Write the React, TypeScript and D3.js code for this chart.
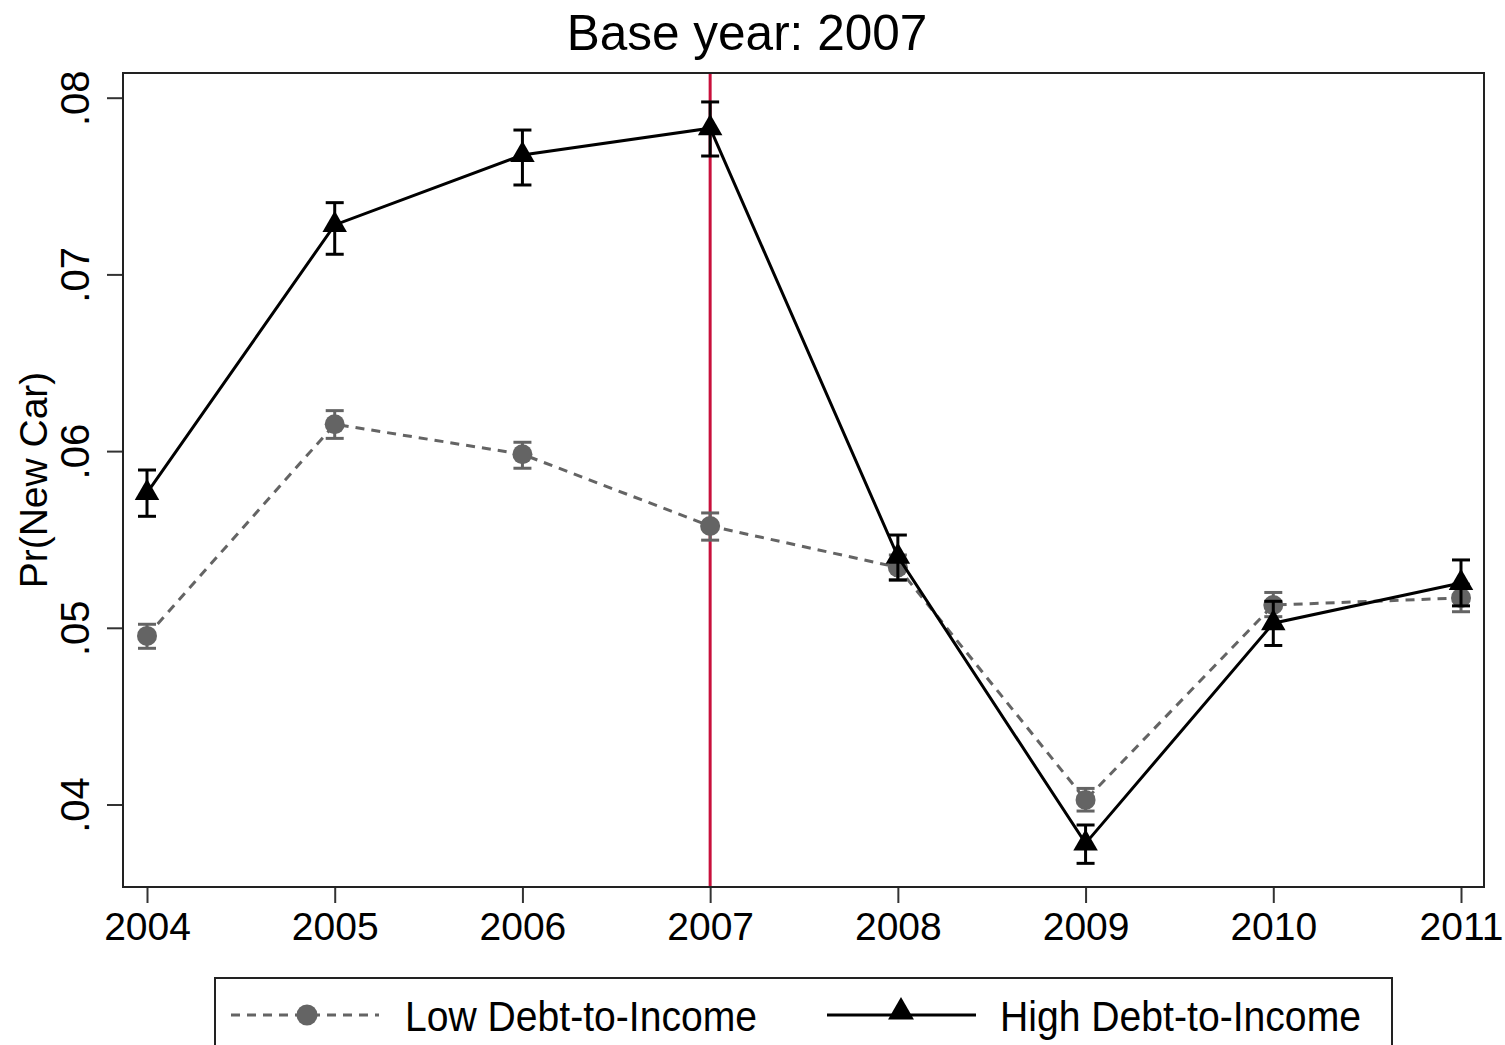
import { useEffect, useRef } from 'react';
import * as d3 from 'd3';

const years = [2004, 2005, 2006, 2007, 2008, 2009, 2010, 2011];

const lowMean = [0.04954, 0.06152, 0.05982, 0.05576, 0.05342, 0.04026, 0.05129, 0.05169];
const lowLo = [0.04884, 0.06072, 0.05903, 0.05496, 0.05272, 0.03963, 0.05063, 0.05091];
const lowHi = [0.0502, 0.06229, 0.0605, 0.0565, 0.05412, 0.04091, 0.052, 0.05247];

const highMean = [0.05763, 0.0728, 0.07676, 0.07827, 0.05403, 0.0378, 0.05026, 0.05254];
const highLo = [0.05631, 0.07114, 0.07506, 0.0767, 0.0527, 0.03667, 0.049, 0.05124];
const highHi = [0.05893, 0.07406, 0.07817, 0.07976, 0.05525, 0.03884, 0.0515, 0.05384];

const yTicks = [0.04, 0.05, 0.06, 0.07, 0.08];
const yTickLabels = ['.04', '.05', '.06', '.07', '.08'];
const baseYear = 2007;

const FONT = '"Liberation Sans", Arial, Helvetica, sans-serif';

export default function App() {
  const svgRef = useRef<SVGSVGElement>(null);

  useEffect(() => {
    if (!svgRef.current) return;
    const svg = d3.select(svgRef.current);
    svg.selectAll('*').remove();

    const frame = { left: 123, right: 1484, top: 73, bottom: 887 };

    const x = d3.scaleLinear().domain([2004, 2011]).range([147, 1461]);
    const y = d3.scaleLinear().domain([0.04, 0.08]).range([804.5, 97.7]);

    const gray = '#646464';
    const ink = '#000';

    // title
    svg.append('text')
      .attr('x', 747)
      .attr('y', 50)
      .attr('text-anchor', 'middle')
      .attr('font-family', FONT)
      .attr('font-size', 49.5)
      .attr('fill', '#000')
      .text(`Base year: ${baseYear}`);

    // base year line (behind everything)
    svg.append('line')
      .attr('x1', x(baseYear))
      .attr('x2', x(baseYear))
      .attr('y1', frame.top)
      .attr('y2', frame.bottom)
      .attr('stroke', '#c8103c')
      .attr('stroke-width', 3);

    // x axis
    const xAxis = svg.append('g')
      .attr('transform', `translate(0,${frame.bottom})`)
      .call(d3.axisBottom(x).tickValues(years).tickFormat(d3.format('d')).tickSize(16).tickPadding(9));
    xAxis.select('.domain').remove();
    xAxis.selectAll('line').attr('stroke', '#333').attr('stroke-width', 2);
    xAxis.selectAll('text')
      .attr('font-family', FONT)
      .attr('font-size', 39)
      .attr('fill', '#000');

    // y axis
    const yAxis = svg.append('g')
      .attr('transform', `translate(${frame.left},0)`)
      .call(d3.axisLeft(y).tickValues(yTicks).tickFormat((_, i) => yTickLabels[i]).tickSize(16));
    yAxis.select('.domain').remove();
    yAxis.selectAll('line').attr('stroke', '#333').attr('stroke-width', 2);
    yAxis.selectAll('text')
      .attr('x', 0)
      .attr('y', -34)
      .attr('dy', 0)
      .attr('transform', 'rotate(-90)')
      .attr('text-anchor', 'middle')
      .attr('font-family', FONT)
      .attr('font-size', 40)
      .attr('fill', '#000');

    svg.append('text')
      .attr('transform', `translate(47,${(frame.top + frame.bottom) / 2}) rotate(-90)`)
      .attr('text-anchor', 'middle')
      .attr('font-family', FONT)
      .attr('font-size', 39)
      .attr('fill', '#000')
      .text('Pr(New Car)');

    const line = d3.line<number>().x((_, i) => x(years[i])).y((d) => y(d));

    const drawSeries = (
      mean: number[], lo: number[], hi: number[], color: string,
      dash: string | null, marker: 'circle' | 'triangle'
    ) => {
      const g = svg.append('g');
      g.append('path')
        .attr('d', line(mean))
        .attr('fill', 'none')
        .attr('stroke', color)
        .attr('stroke-width', 3)
        .attr('stroke-dasharray', dash);
      const cap = 9;
      years.forEach((yr, i) => {
        const cx = x(yr);
        g.append('line').attr('x1', cx).attr('x2', cx).attr('y1', y(lo[i])).attr('y2', y(hi[i]))
          .attr('stroke', color).attr('stroke-width', 3);
        [lo[i], hi[i]].forEach((v) => {
          g.append('line').attr('x1', cx - cap).attr('x2', cx + cap).attr('y1', y(v)).attr('y2', y(v))
            .attr('stroke', color).attr('stroke-width', 3);
        });
        if (marker === 'circle') {
          g.append('circle').attr('cx', cx).attr('cy', y(mean[i])).attr('r', 10).attr('fill', color);
        } else {
          g.append('path')
            .attr('d', d3.symbol(d3.symbolTriangle, 260)())
            .attr('transform', `translate(${cx},${y(mean[i])})`)
            .attr('fill', color);
        }
      });
    };

    drawSeries(lowMean, lowLo, lowHi, gray, '9,7', 'circle');
    drawSeries(highMean, highLo, highHi, ink, null, 'triangle');

    // plot frame
    svg.append('rect')
      .attr('x', frame.left)
      .attr('y', frame.top)
      .attr('width', frame.right - frame.left)
      .attr('height', frame.bottom - frame.top)
      .attr('fill', 'none')
      .attr('stroke', '#222')
      .attr('stroke-width', 2);

    // legend
    const lg = svg.append('g');
    lg.append('rect')
      .attr('x', 215).attr('y', 978).attr('width', 1177).attr('height', 100)
      .attr('fill', 'none').attr('stroke', '#222').attr('stroke-width', 2);

    const ly = 1015;
    lg.append('line').attr('x1', 231).attr('x2', 379).attr('y1', ly).attr('y2', ly)
      .attr('stroke', gray).attr('stroke-width', 3).attr('stroke-dasharray', '9,7');
    lg.append('circle').attr('cx', 307).attr('cy', ly).attr('r', 10.5).attr('fill', gray);
    lg.append('text')
      .attr('x', 405).attr('y', 1031)
      .attr('font-family', FONT).attr('font-size', 43).attr('fill', '#000')
      .attr('textLength', 352).attr('lengthAdjust', 'spacingAndGlyphs')
      .text('Low Debt-to-Income');

    lg.append('line').attr('x1', 827).attr('x2', 976).attr('y1', ly).attr('y2', ly)
      .attr('stroke', ink).attr('stroke-width', 3);
    lg.append('path')
      .attr('d', d3.symbol(d3.symbolTriangle, 290)())
      .attr('transform', `translate(901,${ly - 3})`)
      .attr('fill', ink);
    lg.append('text')
      .attr('x', 1000).attr('y', 1031)
      .attr('font-family', FONT).attr('font-size', 43).attr('fill', '#000')
      .attr('textLength', 361).attr('lengthAdjust', 'spacingAndGlyphs')
      .text('High Debt-to-Income');
  }, []);

  return (
    <svg
      ref={svgRef}
      width={1505}
      height={1045}
      style={{ position: 'absolute', left: 0, top: 0, background: '#fff' }}
    />
  );
}
